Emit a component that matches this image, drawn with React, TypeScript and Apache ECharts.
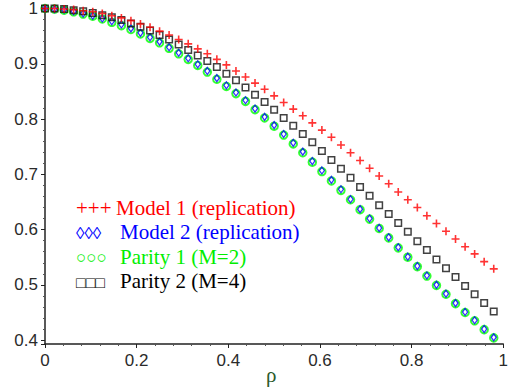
import React, { useEffect, useRef } from "react";
import * as echarts from "echarts";

// rho sample points (48 points, step ≈ 1/48)
const rho = [
  0, 0.0208, 0.0417, 0.0625, 0.0833, 0.1042, 0.125, 0.1458, 0.1667, 0.1875,
  0.2083, 0.2292, 0.25, 0.2708, 0.2917, 0.3125, 0.3333, 0.3542, 0.375, 0.3958,
  0.4167, 0.4375, 0.4583, 0.4792, 0.5, 0.5208, 0.5417, 0.5625, 0.5833, 0.6042,
  0.625, 0.6458, 0.6667, 0.6875, 0.7083, 0.7292, 0.75, 0.7708, 0.7917, 0.8125,
  0.8333, 0.8542, 0.875, 0.8958, 0.9167, 0.9375, 0.9583, 0.9792,
];

const model1 = [
  1.0, 1.0, 0.999, 0.998, 0.996, 0.994, 0.991, 0.987, 0.983, 0.978,
  0.972, 0.966, 0.959, 0.952, 0.944, 0.936, 0.927, 0.918, 0.908, 0.898,
  0.887, 0.876, 0.865, 0.854, 0.842, 0.83, 0.818, 0.806, 0.793, 0.78,
  0.767, 0.753, 0.739, 0.725, 0.711, 0.697, 0.683, 0.668, 0.654, 0.64,
  0.625, 0.611, 0.597, 0.583, 0.569, 0.556, 0.542, 0.529,
];

const model2 = [
  1.0, 0.999, 0.998, 0.995, 0.991, 0.987, 0.982, 0.977, 0.971, 0.964,
  0.956, 0.948, 0.94, 0.93, 0.92, 0.91, 0.899, 0.887, 0.874, 0.861,
  0.848, 0.834, 0.819, 0.804, 0.789, 0.773, 0.757, 0.741, 0.724, 0.707,
  0.69, 0.673, 0.655, 0.637, 0.62, 0.603, 0.586, 0.568, 0.551, 0.534,
  0.517, 0.5, 0.484, 0.467, 0.451, 0.436, 0.42, 0.405,
];

const parity1 = [
  1.0, 0.999, 0.997, 0.994, 0.99, 0.986, 0.981, 0.975, 0.969, 0.962,
  0.954, 0.946, 0.938, 0.928, 0.918, 0.908, 0.897, 0.885, 0.872, 0.859,
  0.846, 0.832, 0.817, 0.802, 0.787, 0.771, 0.755, 0.739, 0.722, 0.705,
  0.688, 0.671, 0.654, 0.636, 0.619, 0.602, 0.585, 0.567, 0.55, 0.533,
  0.516, 0.499, 0.483, 0.466, 0.45, 0.435, 0.419, 0.404,
];

const parity2 = [
  1.0, 1.0, 0.999, 0.997, 0.995, 0.992, 0.988, 0.984, 0.979, 0.973,
  0.967, 0.96, 0.952, 0.944, 0.935, 0.925, 0.915, 0.905, 0.894, 0.882,
  0.87, 0.857, 0.844, 0.831, 0.817, 0.802, 0.788, 0.773, 0.758, 0.742,
  0.726, 0.71, 0.694, 0.677, 0.661, 0.644, 0.628, 0.612, 0.596, 0.579,
  0.563, 0.546, 0.53, 0.514, 0.498, 0.483, 0.467, 0.452,
];

const legendMarks = ["+++", "\u25CA\u25CA\u25CA", "\u25CB\u25CB\u25CB", "\u25A1\u25A1\u25A1"];
const legendLabels = [
  "Model 1 (replication)",
  "Model 2 (replication)",
  "Parity 1 (M=2)",
  "Parity 2 (M=4)",
];
const legendColors = ["#ff0000", "#0000ff", "#00ee00", "#000000"];
const xAxisName = "\u03C1";

function pairs(ys: number[]) {
  return rho.map((r, i) => [r, ys[i]]);
}

export default function App() {
  const ref = useRef<HTMLDivElement>(null);

  useEffect(() => {
    if (!ref.current) return;
    const chart = echarts.init(ref.current, undefined, { renderer: "svg" });
    const axisColor = "#222";
    const labelFont = {
      fontFamily: "Liberation Sans, Arial, sans-serif",
      fontSize: 17,
      color: "#2a2a2a",
    };
    const legendY = [210, 234, 259, 283];
    const labelX = [116, 120, 120, 120];
    const markSize = [21, 17, 17, 16];
    const markLetter = [0, 1.5, 0.5, 1];

    const graphics: any[] = [];
    legendMarks.forEach((m, i) => {
      graphics.push({
        type: "text",
        left: 76,
        top: legendY[i] - markSize[i] * 0.6 + markLetter[i],
        silent: true,
        style: {
          text: m,
          fill: legendColors[i],
          font: `${markSize[i]}px 'Liberation Serif', 'DejaVu Serif', serif`,
        },
      });
      graphics.push({
        type: "text",
        left: labelX[i],
        top: legendY[i] - 13,
        silent: true,
        style: {
          text: legendLabels[i],
          fill: legendColors[i],
          font: "21px 'Liberation Serif', serif",
        },
      });
    });
    graphics.push({
      type: "text",
      left: 266,
      top: 364,
      silent: true,
      style: {
        text: xAxisName,
        fill: "#2a5a2a",
        font: "21px 'Liberation Serif', serif",
      },
    });

    chart.setOption({
      animation: false,
      backgroundColor: "#ffffff",
      grid: { left: 45, right: 3, top: 4, bottom: 47, containLabel: false },
      xAxis: {
        type: "value",
        min: 0,
        max: 1,
        interval: 0.2,
        axisLine: { show: true, onZero: false, lineStyle: { color: axisColor, width: 1.5 } },
        axisTick: { show: true, length: 4, lineStyle: { color: axisColor } },
        minorTick: { show: true, splitNumber: 5, length: 2, lineStyle: { color: "#555" } },
        splitLine: { show: false },
        axisLabel: { ...labelFont, margin: 8 },
      },
      yAxis: {
        type: "value",
        min: 0.393,
        max: 1.005,
        splitNumber: 6,
        axisLine: { show: true, onZero: false, lineStyle: { color: axisColor, width: 1.5 } },
        axisTick: { show: true, length: 4, lineStyle: { color: axisColor } },
        minorTick: { show: true, splitNumber: 5, length: 2, lineStyle: { color: "#555" } },
        splitLine: { show: false },
        axisLabel: {
          ...labelFont,
          margin: 7,
          showMinLabel: false,
          showMaxLabel: false,
          formatter: (v: number) => {
            const r = Math.round(v * 10);
            if (Math.abs(v * 10 - r) > 1e-6) return "";
            return r === 10 ? "1" : String(r / 10);
          },
        },
      },
      graphic: graphics,
      series: [
        {
          type: "scatter",
          name: legendLabels[2],
          data: pairs(parity1),
          symbol: "circle",
          symbolSize: 7.5,
          silent: true,
          itemStyle: { color: "rgba(0,0,0,0)", borderColor: "#00ff00", borderWidth: 2 },
        },
        {
          type: "scatter",
          name: legendLabels[1],
          data: pairs(model2),
          symbol: "diamond",
          symbolSize: [5, 7],
          silent: true,
          itemStyle: { color: "rgba(0,0,0,0)", borderColor: "#0000ff", borderWidth: 1.3 },
        },
        {
          type: "scatter",
          name: legendLabels[3],
          data: pairs(parity2),
          symbol: "rect",
          symbolSize: 6.5,
          silent: true,
          itemStyle: { color: "rgba(0,0,0,0)", borderColor: "#111", borderWidth: 1.5 },
        },
        {
          type: "scatter",
          name: legendLabels[0],
          data: pairs(model1),
          symbol: "path://M5,0L5,10M0,5L10,5",
          symbolSize: 8,
          silent: true,
          itemStyle: { color: "rgba(0,0,0,0)", borderColor: "#ff0000", borderWidth: 1.6 },
        },
      ],
    });
    return () => chart.dispose();
  }, []);

  return (
    <div
      ref={ref}
      style={{ position: "fixed", left: 0, top: 0, width: 511, height: 391, background: "#fff" }}
    />
  );
}
